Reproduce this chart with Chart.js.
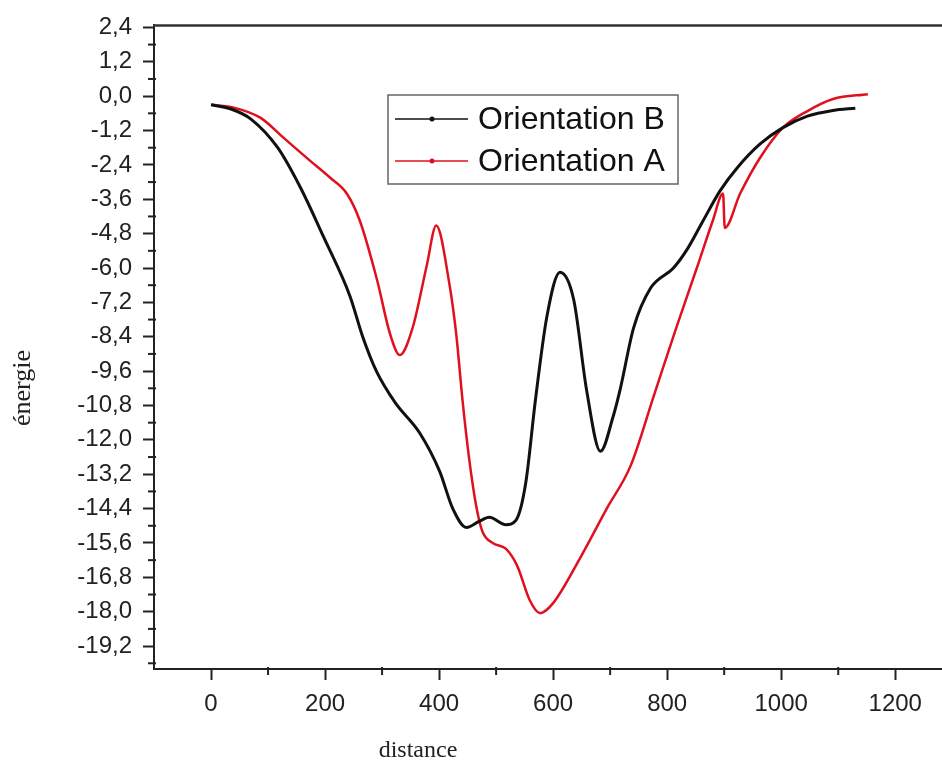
<!DOCTYPE html>
<html>
<head>
<meta charset="utf-8">
<script src="https://cdn.jsdelivr.net/npm/chart.js@4.4.1/dist/chart.umd.min.js"></script>
<style>
html, body { margin: 0; padding: 0; background: #fff; }
</style>
</head>
<body>
<canvas id="graphe" width="942" height="768"></canvas>
<script>
// valeurs
const distB = [0, 35, 70, 117, 157, 197, 244, 266, 290, 323, 366, 401, 424, 448, 470, 488, 517, 535, 552, 569, 589, 612, 636, 659, 683, 705, 718, 741, 771, 811, 835, 863, 893, 923, 963, 1003, 1046, 1091, 1130]
const energieB = [-0.3, -0.45, -0.8, -1.8, -3.2, -4.9, -7.0, -8.4, -9.6, -10.7, -11.76, -13.1, -14.4, -15.06, -14.85, -14.7, -14.96, -14.8, -13.5, -10.6, -7.7, -6.15, -7.1, -10.3, -12.4, -11.2, -10.2, -8.1, -6.7, -6.0, -5.35, -4.35, -3.3, -2.5, -1.67, -1.1, -0.7, -0.5, -0.42]

const distA = [0, 40, 87, 127, 174, 209, 238, 261, 291, 314, 331, 354, 378, 395, 418, 430, 441, 453, 465, 476, 494, 517, 537, 559, 577, 600, 648, 694, 736, 776, 814, 852, 880, 898, 901, 928, 963, 1003, 1046, 1091, 1152]
const energieA = [-0.3, -0.4, -0.76, -1.45, -2.26, -2.85, -3.4, -4.35, -6.4, -8.3, -9.04, -8.06, -5.95, -4.52, -6.55, -8.3, -10.6, -12.7, -14.3, -15.2, -15.6, -15.8, -16.4, -17.6, -18.05, -17.7, -16.1, -14.4, -12.9, -10.5, -8.2, -6.0, -4.35, -3.4, -4.6, -3.4, -2.15, -1.1, -0.52, -0.1, 0.07]

// graduations
const xTicks = [0, 200, 400, 600, 800, 1000, 1200]
const xMinor = [100, 300, 500, 700, 900, 1100]
const yTicks = [2.4, 1.2, 0, -1.2, -2.4, -3.6, -4.8, -6.0, -7.2, -8.4, -9.6, -10.8, -12.0, -13.2, -14.4, -15.6, -16.8, -18.0, -19.2]
const yMinor = [1.8, 0.6, -0.6, -1.8, -3.0, -4.2, -5.4, -6.6, -7.8, -9.0, -10.2, -11.4, -12.6, -13.8, -15.0, -16.2, -17.4, -18.6, -19.8]

function points(xs, ys) {
  return xs.map((x, i) => ({ x: x, y: ys[i] }))
}

const police = "'Liberation Sans', Arial, sans-serif"

// cadre du haut, petites graduations, légende et titres des axes
const decor = {
  id: 'decor',
  afterDraw(chart) {
    const ctx = chart.ctx
    const area = chart.chartArea
    const sx = chart.scales.x
    const sy = chart.scales.y
    ctx.save()
    ctx.strokeStyle = '#333'
    ctx.lineWidth = 2.5
    ctx.beginPath()
    ctx.moveTo(area.left - 1, area.top)
    ctx.lineTo(area.right, area.top)
    ctx.stroke()

    ctx.lineWidth = 2
    ctx.strokeStyle = '#222'
    yMinor.forEach(v => {
      const y = sy.getPixelForValue(v)
      ctx.beginPath()
      ctx.moveTo(area.left - 6, y)
      ctx.lineTo(area.left + 2, y)
      ctx.stroke()
    })
    xMinor.forEach(v => {
      const x = sx.getPixelForValue(v)
      ctx.beginPath()
      ctx.moveTo(x, area.bottom - 2)
      ctx.lineTo(x, area.bottom + 6)
      ctx.stroke()
    })

    // légende
    ctx.lineWidth = 1.5
    ctx.strokeStyle = '#666'
    ctx.strokeRect(388, 95, 290, 89)
    const lignes = [{ ds: chart.data.datasets[0], y: 119 }, { ds: chart.data.datasets[1], y: 161 }]
    ctx.font = '32px ' + police
    ctx.textBaseline = 'middle'
    lignes.forEach(l => {
      ctx.strokeStyle = l.ds.borderColor
      ctx.fillStyle = l.ds.borderColor
      ctx.lineWidth = 1.5
      ctx.beginPath()
      ctx.moveTo(395, l.y)
      ctx.lineTo(468, l.y)
      ctx.stroke()
      ctx.beginPath()
      ctx.arc(432, l.y, 2.5, 0, Math.PI * 2)
      ctx.fill()
      ctx.fillStyle = '#111'
      ctx.fillText(l.ds.label, 478, l.y + 1)
    })

    // titres
    ctx.fillStyle = '#222'
    ctx.font = "24px 'Liberation Serif', 'Times New Roman', serif"
    ctx.textAlign = 'center'
    ctx.fillText('distance', 418, 751)
    ctx.translate(23, 388)
    ctx.rotate(-Math.PI / 2)
    ctx.font = "26px 'Liberation Serif', 'Times New Roman', serif"
    ctx.fillText('énergie', 0, 0)
    ctx.restore()
  }
}

const graphe = new Chart(document.getElementById('graphe'), {
  type: 'line',
  data: {
    datasets: [{
      label: 'Orientation B',
      data: points(distB, energieB),
      borderColor: '#111111',
      borderWidth: 3,
      pointRadius: 0,
      cubicInterpolationMode: 'monotone'
    }, {
      label: 'Orientation A',
      data: points(distA, energieA),
      borderColor: '#e0101e',
      borderWidth: 2.5,
      pointRadius: 0,
      cubicInterpolationMode: 'monotone'
    }]
  },
  options: {
    responsive: false,
    animation: false,
    layout: { padding: { top: 23, right: 0, bottom: 0, left: 0 } },
    plugins: {
      legend: { display: false },
      tooltip: { enabled: false }
    },
    scales: {
      x: {
        type: 'linear',
        min: -100,
        max: 1282,
        afterFit(scale) { scale.height = 99 },
        afterBuildTicks(scale) { scale.ticks = xTicks.map(v => ({ value: v })) },
        border: { display: true, color: '#222', width: 2 },
        grid: { drawOnChartArea: false, drawTicks: true, tickLength: 11, tickWidth: 2, tickColor: '#222' },
        ticks: {
          color: '#222',
          padding: 10,
          maxRotation: 0,
          font: { family: police, size: 24 },
          callback: v => String(v)
        }
      },
      y: {
        min: -20,
        max: 2.47,
        afterFit(scale) { scale.width = 154 },
        afterBuildTicks(scale) { scale.ticks = yTicks.map(v => ({ value: v })) },
        border: { display: true, color: '#222', width: 2 },
        grid: { drawOnChartArea: false, drawTicks: true, tickLength: 11, tickWidth: 2, tickColor: '#222' },
        ticks: {
          color: '#222',
          padding: 11,
          font: { family: police, size: 24 },
          callback: v => v.toFixed(1).replace('.', ',')
        }
      }
    }
  },
  plugins: [decor]
})
</script>
</body>
</html>
